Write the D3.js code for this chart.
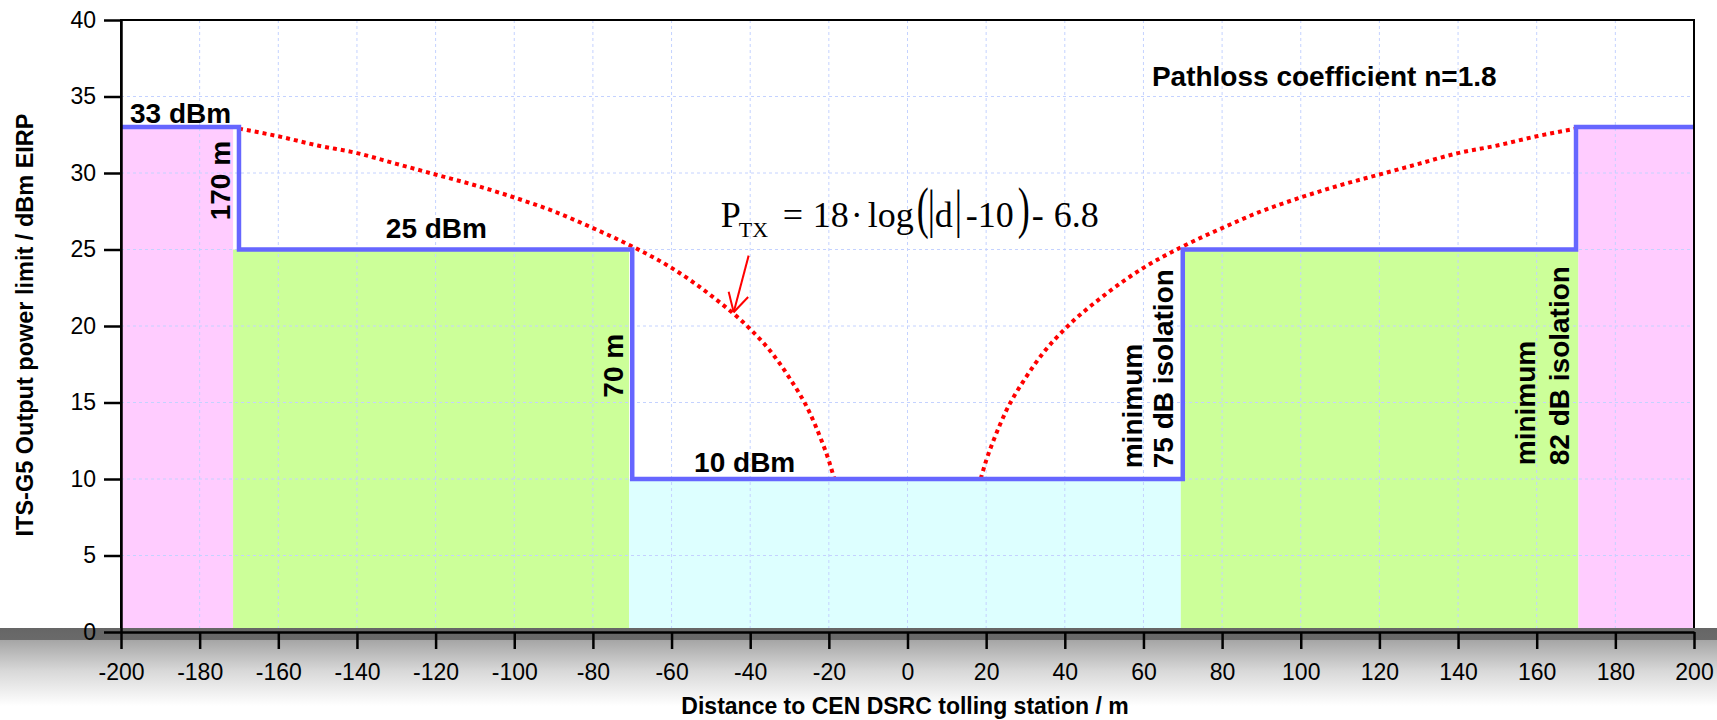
<!DOCTYPE html>
<html>
<head>
<meta charset="utf-8">
<script src="https://cdn.jsdelivr.net/npm/d3@7"></script>
<style>
  html, body { margin: 0; padding: 0; background: #fff; }
  svg { display: block; }
</style>
</head>
<body>
<div id="chart"></div>
<script>
// ---- data ----
var xTicks = [-200, -180, -160, -140, -120, -100, -80, -60, -40, -20, 0, 20, 40, 60, 80, 100, 120, 140, 160, 180, 200];
var yTicks = [0, 5, 10, 15, 20, 25, 30, 35, 40];

// output power limit step line
var limitDist = [-200, -170, -170, -70, -70, 70, 70, 170, 170, 200];
var limitPower = [33, 33, 25, 25, 10, 10, 25, 25, 33, 33];

// coloured zones under the limit
var zoneFrom = [-200, -171.5, -70.8, 69.5, 170.6];
var zoneTo = [-171.5, -70.8, 69.5, 170.6, 199.7];
var zoneTop = [33, 25, 10, 25, 33];
var zoneKind = ["outer", "middle", "inner", "middle", "outer"];

var curveDist = [170, 160, 150, 140, 130, 120, 110, 100, 90, 80, 70, 60, 50, 40, 35, 30, 25, 22, 20, 18.6];
var curvePower = [32.9, 32.4, 31.8, 31.3, 30.6, 29.9, 29.2, 28.4, 27.5, 26.4, 25.2, 23.8, 22.0, 19.8, 18.4, 16.6, 14.4, 12.6, 11.2, 10.0];

// arrow pointing at the curve
var arrowFrom = [-40.4, 24.6];
var arrowTo = [-44.2, 20.9];

var zoneColor = { outer: "#ffccff", middle: "#ccff99", inner: "#ddffff" };

var W = 1717, H = 720;
var padL = 121, padR = 1694, padT = 20, padB = 632;
var sans = "'Liberation Sans', Arial, Helvetica, sans-serif";
var serif = "'Liberation Serif', 'Times New Roman', serif";

var svg = d3.select("#chart").append("svg")
    .attr("width", W).attr("height", H);

var x = d3.scaleLinear().domain([-200, 200]).range([padL, padR]);
var y = d3.scaleLinear().domain([0, 40]).range([padB, padT]);

var defs = svg.append("defs");
var grad = defs.append("linearGradient").attr("id", "band")
    .attr("x1", 0).attr("y1", 0).attr("x2", 0).attr("y2", 1);
grad.append("stop").attr("offset", "0%").attr("stop-color", "#666");
grad.append("stop").attr("offset", "15%").attr("stop-color", "#6a6a6a");
grad.append("stop").attr("offset", "16%").attr("stop-color", "#a6a6a6");
grad.append("stop").attr("offset", "55%").attr("stop-color", "#d8d8d8");
grad.append("stop").attr("offset", "100%").attr("stop-color", "#fff");

// zones
svg.append("g").selectAll("rect")
    .data(zoneFrom)
    .enter().append("rect")
    .attr("x", function(d, i) { return x(d); })
    .attr("y", function(d, i) { return y(zoneTop[i]); })
    .attr("width", function(d, i) { return x(zoneTo[i]) - x(d); })
    .attr("height", function(d, i) { return y(0) - y(zoneTop[i]); })
    .style("fill", function(d, i) { return zoneColor[zoneKind[i]]; });

// grid
var grid = svg.append("g")
    .style("stroke", "#c4d2ff").style("stroke-width", 1)
    .style("stroke-dasharray", "3,3");
grid.selectAll("line.v").data(xTicks.slice(1, -1)).enter().append("line")
    .attr("x1", function(d) { return x(d); }).attr("x2", function(d) { return x(d); })
    .attr("y1", padT).attr("y2", padB);
grid.selectAll("line.h").data(yTicks.slice(1, -1)).enter().append("line")
    .attr("x1", padL).attr("x2", padR)
    .attr("y1", function(d) { return y(d); }).attr("y2", function(d) { return y(d); });

// red dotted curves
var curveLine = d3.line()
    .x(function(d) { return x(d[0]); })
    .y(function(d) { return y(d[1]); })
    .curve(d3.curveMonotoneX);
var leftCurve = curveDist.map(function(d, i) { return [-d, curvePower[i]]; });
var rightCurve = curveDist.map(function(d, i) { return [d, curvePower[i]]; }).reverse();
[leftCurve, rightCurve].forEach(function(pts) {
  svg.append("path")
      .attr("d", curveLine(pts))
      .style("fill", "none")
      .style("stroke", "#ff0000")
      .style("stroke-width", 4)
      .style("stroke-dasharray", "4,4");
});

// blue step limit
var stepLine = d3.line()
    .x(function(d, i) { return x(limitDist[i]); })
    .y(function(d, i) { return y(limitPower[i]); });
svg.append("path")
    .attr("d", stepLine(limitDist))
    .style("fill", "none")
    .style("stroke", "#6666ff")
    .style("stroke-width", 4.5)
    .style("stroke-linejoin", "miter");

// arrow
var ax0 = x(arrowFrom[0]), ay0 = y(arrowFrom[1]);
var ax1 = x(arrowTo[0]), ay1 = y(arrowTo[1]);
var ang = Math.atan2(ay1 - ay0, ax1 - ax0);
var arrow = svg.append("g").style("stroke", "#ff0000").style("stroke-width", 2).style("fill", "none");
arrow.append("line").attr("x1", ax0).attr("y1", ay0).attr("x2", ax1).attr("y2", ay1);
[-0.5, 0.5].forEach(function(s) {
  arrow.append("line")
      .attr("x1", ax1).attr("y1", ay1)
      .attr("x2", ax1 - 21 * Math.cos(ang + s))
      .attr("y2", ay1 - 21 * Math.sin(ang + s));
});

// formula
var fx = x(-47.5), fy = y(26.47);
var formula = svg.append("g").attr("transform", "translate(" + fx + "," + fy + ")")
    .style("font-family", serif).style("fill", "#000");
var pieces = [
  { t: "P", dx: 0, size: 36 },
  { t: "TX", dx: 18, size: 22, dy: 10 },
  { t: "=", dx: 62, size: 36 },
  { t: "18", dx: 92, size: 36 },
  { t: "\u00b7", dx: 130, size: 36 },
  { t: "log", dx: 147, size: 36 },
  { t: "(", dx: 196, size: 36, sy: 1.57 },
  { t: "|", dx: 207, size: 36, sy: 1.45 },
  { t: "d", dx: 214, size: 36 },
  { t: "|", dx: 234, size: 36, sy: 1.45 },
  { t: "-10", dx: 245, size: 36 },
  { t: ")", dx: 297, size: 36, sy: 1.57 },
  { t: "-", dx: 311, size: 36 },
  { t: "6.8", dx: 333, size: 36 }
];
pieces.forEach(function(p) {
  formula.append("text")
      .attr("transform", "translate(" + p.dx + "," + (p.dy || 0) + ") scale(1," + (p.sy || 1) + ")")
      .style("font-size", p.size + "px")
      .text(p.t);
});

// labels inside the plot
function label(txt, px, py, opts) {
  opts = opts || {};
  return svg.append("text")
      .attr("transform", "translate(" + px + "," + py + ")" + (opts.rot ? " rotate(-90)" : ""))
      .style("font-family", sans).style("font-weight", "bold")
      .style("font-size", (opts.size || 28) + "px")
      .style("text-anchor", opts.anchor || "start")
      .style("fill", "#000")
      .text(txt);
}
label("33 dBm", x(-197.7), y(33) - 4.5);
label("170 m", x(-170) - 9, y(29.5), { rot: true, anchor: "middle" });
label("25 dBm", x(-119.8), y(25) - 12, { anchor: "middle" });
label("70 m", x(-70) - 9, y(17.4), { rot: true, anchor: "middle" });
label("10 dBm", x(-41.4), y(10) - 7, { anchor: "middle" });
label("Pathloss coefficient n=1.8", x(149.8), y(35.7), { anchor: "end" });
label("minimum", x(70) - 41, y(10.7), { rot: true });
label("75 dB isolation", x(70) - 10, y(10.7), { rot: true });
label("minimum", x(170) - 41, y(10.9), { rot: true });
label("82 dB isolation", x(170) - 7, y(10.9), { rot: true });

// frame
svg.append("rect")
    .attr("x", padL).attr("y", padT)
    .attr("width", padR - padL).attr("height", padB - padT)
    .style("fill", "none").style("stroke", "#000").style("stroke-width", 2);

// grey band at the bottom
svg.append("rect")
    .attr("x", 0).attr("y", 628).attr("width", W).attr("height", 78)
    .style("fill", "url(#band)");

// axes
var xAxis = svg.append("g")
    .attr("transform", "translate(0," + padB + ")")
    .call(d3.axisBottom(x).tickValues(xTicks).tickSize(17).tickSizeOuter(0).tickPadding(15)
      .tickFormat(function(d) { return String(d); }));
var yAxis = svg.append("g")
    .attr("transform", "translate(" + padL + ",0)")
    .call(d3.axisLeft(y).tickValues(yTicks).tickSize(17).tickSizeOuter(0).tickPadding(8));
[xAxis, yAxis].forEach(function(g) {
  g.selectAll("path.domain").style("stroke", "#000").style("stroke-width", 2.5);
  g.selectAll(".tick line").style("stroke", "#000").style("stroke-width", 2.5);
  g.selectAll(".tick text")
      .style("font-family", sans).style("font-size", "23px").style("fill", "#000");
});

// axis titles
svg.append("text")
    .attr("x", 905).attr("y", 714)
    .style("font-family", sans).style("font-weight", "bold").style("font-size", "23px")
    .style("text-anchor", "middle")
    .text("Distance to CEN DSRC tolling station / m");
svg.append("text")
    .attr("transform", "translate(33,325) rotate(-90)")
    .style("font-family", sans).style("font-weight", "bold").style("font-size", "23.5px")
    .style("text-anchor", "middle")
    .text("ITS-G5 Output power limit / dBm EIRP");
</script>
</body>
</html>
